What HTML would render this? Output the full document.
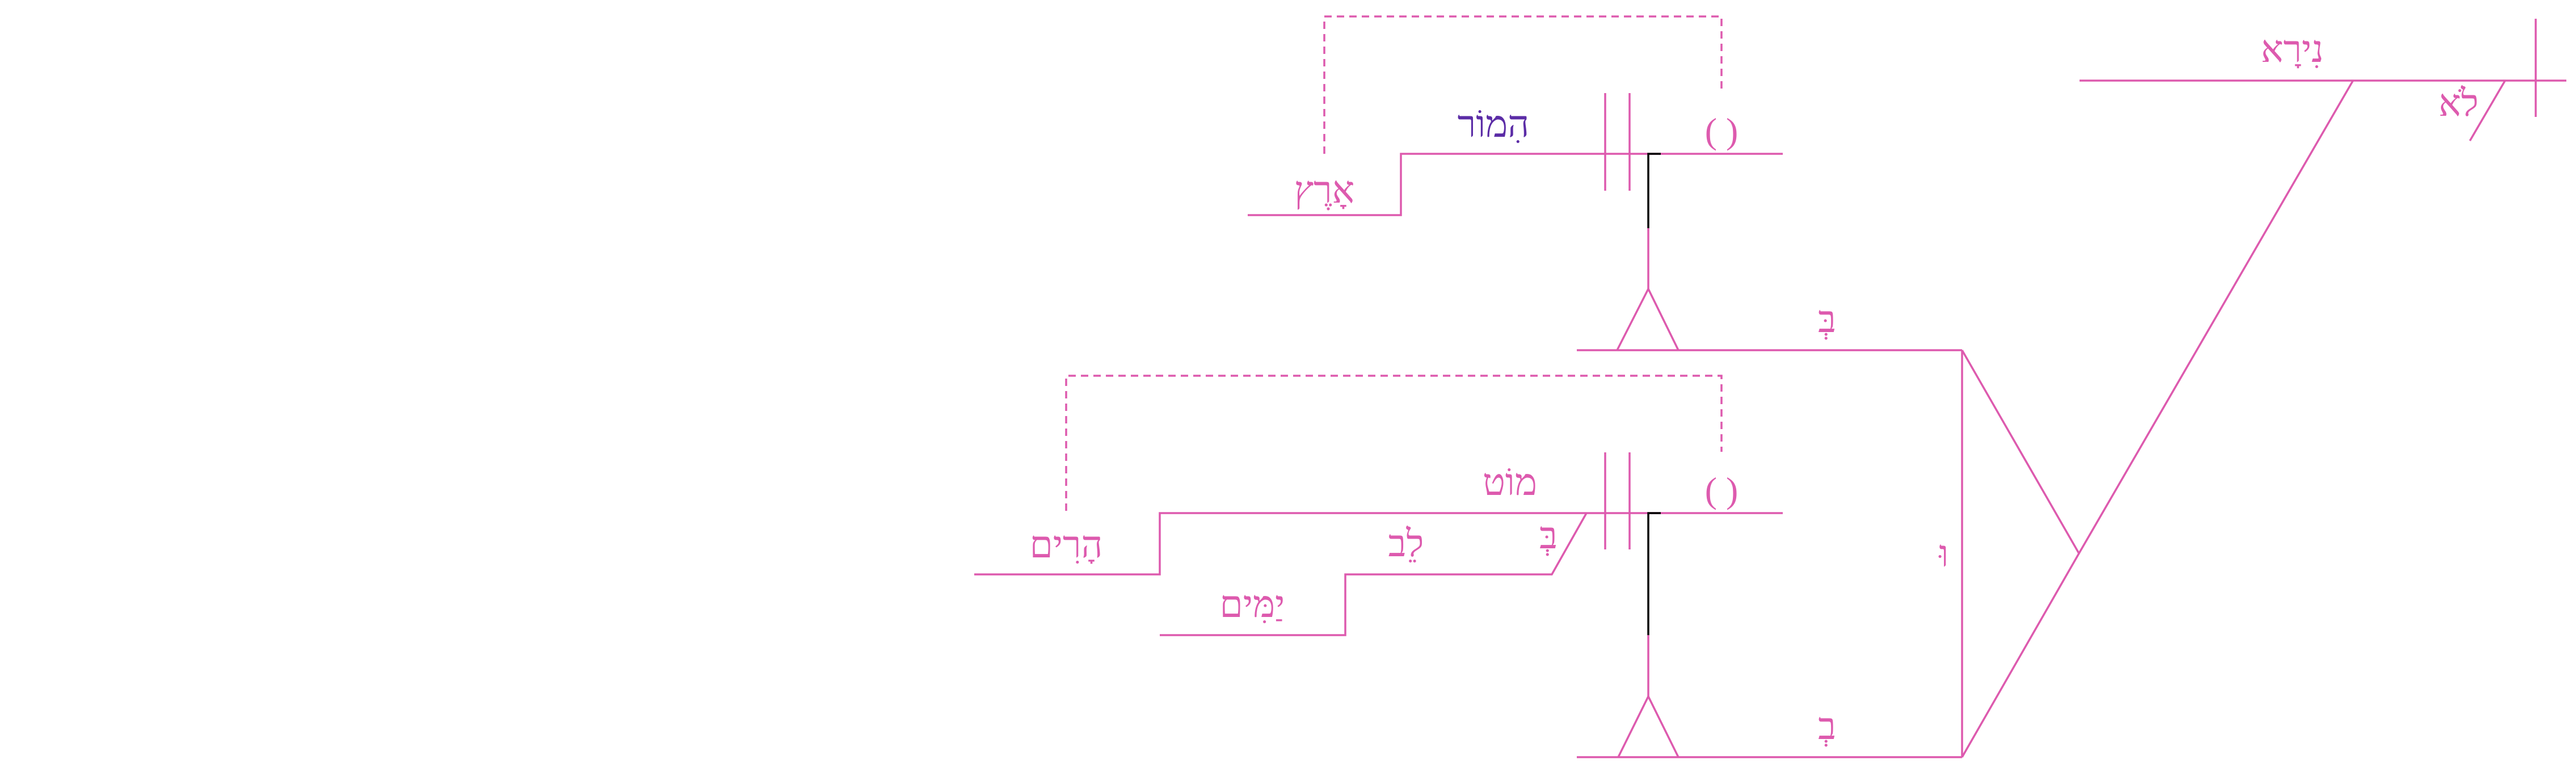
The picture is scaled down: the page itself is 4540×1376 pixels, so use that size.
<!DOCTYPE html>
<html><head><meta charset="utf-8"><style>
html,body{margin:0;padding:0;background:#fff;}
svg{display:block;}
text{font-family:"Liberation Serif","DejaVu Sans",serif;fill:#dd5aae;text-anchor:middle;}
</style></head><body>
<svg width="4540" height="1376" viewBox="0 0 4540 1376" xmlns="http://www.w3.org/2000/svg">
<g stroke="#dd5aae" stroke-width="3.5" fill="none">
<polyline points="2334,271 2334,29 3034,29 3034,163" stroke-dasharray="13,9"/>
<polyline points="2199,379 2469,379 2469,271 3142,271"/>
<line x1="2829" y1="164" x2="2829" y2="336"/>
<line x1="2872" y1="164" x2="2872" y2="336"/>
<line x1="2905" y1="402" x2="2905" y2="509"/>
<polyline points="2850,617 2905,509 2958,617"/>
<line x1="2779" y1="617" x2="3458" y2="617"/>
<polyline points="1879,900 1879,662 3034,662 3034,796" stroke-dasharray="13,9"/>
<polyline points="1717,1012 2044,1012 2044,904 3142,904"/>
<polyline points="2044,1119 2371,1119 2371,1012 2735,1012 2796,904"/>
<line x1="2829" y1="797" x2="2829" y2="968"/>
<line x1="2872" y1="797" x2="2872" y2="968"/>
<line x1="2905" y1="1119" x2="2905" y2="1227"/>
<polyline points="2852,1334 2905,1227 2958,1334"/>
<line x1="2779" y1="1334" x2="3458" y2="1334"/>
<line x1="3458" y1="617" x2="3458" y2="1334"/>
<polyline points="3458,617 3664,975 3458,1334"/>
<line x1="3664" y1="975" x2="4147" y2="142"/>
<line x1="3665" y1="142" x2="4523" y2="142"/>
<line x1="4469" y1="33" x2="4469" y2="206"/>
<line x1="4415" y1="142" x2="4353" y2="248"/>
</g>
<g stroke="#000" stroke-width="3.5" fill="none">
<polyline points="2927,271 2905,271 2905,402"/>
<polyline points="2927,904 2905,904 2905,1119"/>
</g>
<g font-size="66">
<text x="2334" y="357">אָרֶץ</text>
<text x="2632" y="241" style="fill:#5b2ca6">הִמוֹר</text>
<text x="3034" y="252" font-size="64">( )</text>
<text x="3220" y="585">בְּ</text>
<text x="2661" y="872">מוֹט</text>
<text x="3034" y="885" font-size="64">( )</text>
<text x="1879" y="982">הָרִים</text>
<text x="2478" y="980">לֵב</text>
<text x="2729" y="966">בְּ</text>
<text x="2207" y="1087">יַמִּים</text>
<text x="3220" y="1302">בְ</text>
<text x="3426" y="998">וּ</text>
<text x="4040" y="109">נִירָא</text>
<text x="4333" y="204">לֹא</text>
</g>
</svg>
</body></html>
